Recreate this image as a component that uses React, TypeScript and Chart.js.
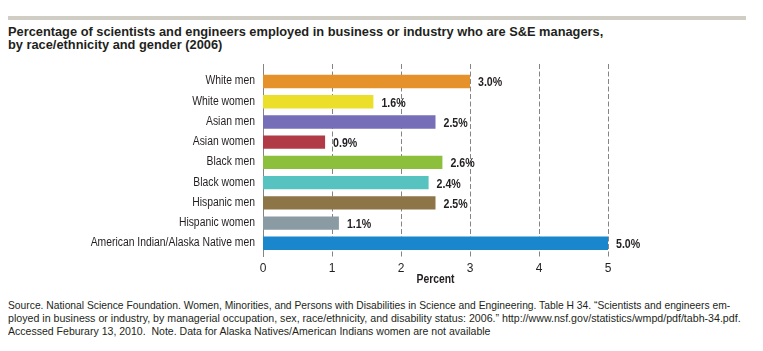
import React, { useEffect, useRef } from "react";
import { Chart, registerables } from "chart.js";

Chart.register(...registerables);

const categories = [
  "White men",
  "White women",
  "Asian men",
  "Asian women",
  "Black men",
  "Black women",
  "Hispanic men",
  "Hispanic women",
  "American Indian/Alaska Native men",
];
const values = [3.0, 1.6, 2.5, 0.9, 2.6, 2.4, 2.5, 1.1, 5.0];
const barColors = [
  "#e5922a",
  "#ebdf2a",
  "#766fb8",
  "#b03a46",
  "#8cbf3c",
  "#56c3c0",
  "#8e7548",
  "#8a9ba3",
  "#1a86cc",
];
const xTicks = [0, 1, 2, 3, 4, 5];
const xTitle = "Percent";
const titleLines = [
  "Percentage of scientists and engineers employed in business or industry who are S&E managers,",
  "by race/ethnicity and gender (2006)",
];
const sourceLines = [
  "Source. National Science Foundation. Women, Minorities, and Persons with Disabilities in Science and Engineering. Table H 34. \u201CScientists and engineers em-",
  "ployed in business or industry, by managerial occupation, sex, race/ethnicity, and disability status: 2006.\u201D http://www.nsf.gov/statistics/wmpd/pdf/tabh-34.pdf.",
  "Accessed Feburary 13, 2010.  Note. Data for Alaska Natives/American Indians women are not available",
];
const sourceLineScales = [0.895, 0.924, 0.916];

const FONT = "'Liberation Sans', Arial, sans-serif";
const TEXT = "#231f20";

const gridPlugin = {
  id: "customGrid",
  beforeDatasetsDraw(chart: any) {
    const { ctx, chartArea } = chart;
    const xs = chart.scales.x;
    ctx.save();
    ctx.lineWidth = 1;
    ctx.strokeStyle = "#858585";
    xTicks.forEach((t) => {
      const x = Math.round(xs.getPixelForValue(t)) + 0.5;
      ctx.setLineDash(t === 0 ? [] : [5, 2.5]);
      ctx.beginPath();
      ctx.moveTo(x, chartArea.top - 7.4);
      ctx.lineTo(x, chartArea.bottom + 3.6);
      ctx.stroke();
    });
    ctx.restore();
  },
};

function drawScaled(ctx: any, text: string, x: number, y: number, sx: number) {
  ctx.save();
  ctx.translate(x, y);
  ctx.scale(sx, 1);
  ctx.fillText(text, 0, 0);
  ctx.restore();
}

const textPlugin = {
  id: "customText",
  afterDatasetsDraw(chart: any) {
    const { ctx, chartArea } = chart;
    const meta = chart.getDatasetMeta(0);
    const ys = chart.scales.y;
    ctx.save();
    ctx.fillStyle = TEXT;
    ctx.textBaseline = "middle";

    // value labels
    ctx.font = `bold 12.5px ${FONT}`;
    ctx.textAlign = "left";
    meta.data.forEach((bar: any, i: number) => {
      drawScaled(ctx, values[i].toFixed(1) + "%", bar.x + 8, bar.y + 1.5, 0.85);
    });

    // category labels
    ctx.font = `12.5px ${FONT}`;
    ctx.textAlign = "right";
    categories.forEach((c, i) => {
      drawScaled(ctx, c, chartArea.left - 8, ys.getPixelForValue(i) - 0.5, 0.83);
    });

    // axis title
    ctx.font = `bold 12.5px ${FONT}`;
    ctx.textAlign = "center";
    drawScaled(ctx, xTitle, (chartArea.left + chartArea.right) / 2, chartArea.bottom + 26, 0.83);
    ctx.restore();
  },
};

export default function App() {
  const canvasRef = useRef<HTMLCanvasElement | null>(null);

  useEffect(() => {
    if (!canvasRef.current) return;
    const chart = new Chart(canvasRef.current, {
      type: "bar",
      data: {
        labels: categories,
        datasets: [
          {
            data: values,
            backgroundColor: barColors,
            borderWidth: 0,
            barPercentage: 0.66,
            categoryPercentage: 1,
          },
        ],
      },
      options: {
        indexAxis: "y",
        animation: false,
        responsive: false,
        maintainAspectRatio: false,
        layout: { padding: { top: 11.4, right: 147, bottom: 0, left: 0 } },
        plugins: {
          legend: { display: false },
          tooltip: { enabled: false },
        },
        scales: {
          x: {
            type: "linear",
            min: 0,
            max: 5,
            afterFit: (s: any) => {
              s.height = 31.6;
            },
            afterBuildTicks: (s: any) => {
              s.ticks = xTicks.map((v) => ({ value: v }));
            },
            grid: { display: false, drawTicks: false },
            border: { display: false },
            ticks: {
              padding: 8,
              color: TEXT,
              font: { family: FONT, size: 12 },
            },
            title: { display: false },
          },
          y: {
            type: "category",
            afterFit: (s: any) => {
              s.width = 255;
            },
            grid: { display: false, drawTicks: false },
            border: { display: false },
            ticks: { display: false },
          },
        },
      },
      plugins: [gridPlugin, textPlugin],
    });
    return () => chart.destroy();
  }, []);

  return (
    <div
      style={{
        position: "relative",
        width: 747,
        height: 335,
        fontFamily: FONT,
        color: TEXT,
      }}
    >
      <div
        style={{
          position: "absolute",
          left: 0,
          top: 8,
          width: 738,
          height: 3.5,
          background: "#cfcdc4",
        }}
      />
      <div
        style={{
          position: "absolute",
          left: 0,
          top: 16.8,
          fontSize: 13.5,
          lineHeight: "13px",
          fontWeight: "bold",
          whiteSpace: "nowrap",
          transform: "scaleX(0.949)",
          transformOrigin: "0 0",
        }}
      >
        {titleLines.map((l, i) => (
          <div key={i}>{l}</div>
        ))}
      </div>
      <canvas
        ref={canvasRef}
        width={747}
        height={225}
        style={{ position: "absolute", left: 0, top: 52, width: 747, height: 225 }}
      />
      <div
        style={{
          position: "absolute",
          left: 0,
          top: 290.5,
          fontSize: 11.5,
          lineHeight: "13.3px",
          whiteSpace: "pre",
        }}
      >
        {sourceLines.map((l, i) => (
          <div
            key={i}
            style={{ transform: `scaleX(${sourceLineScales[i]})`, transformOrigin: "0 0" }}
          >
            {l}
          </div>
        ))}
      </div>
    </div>
  );
}
